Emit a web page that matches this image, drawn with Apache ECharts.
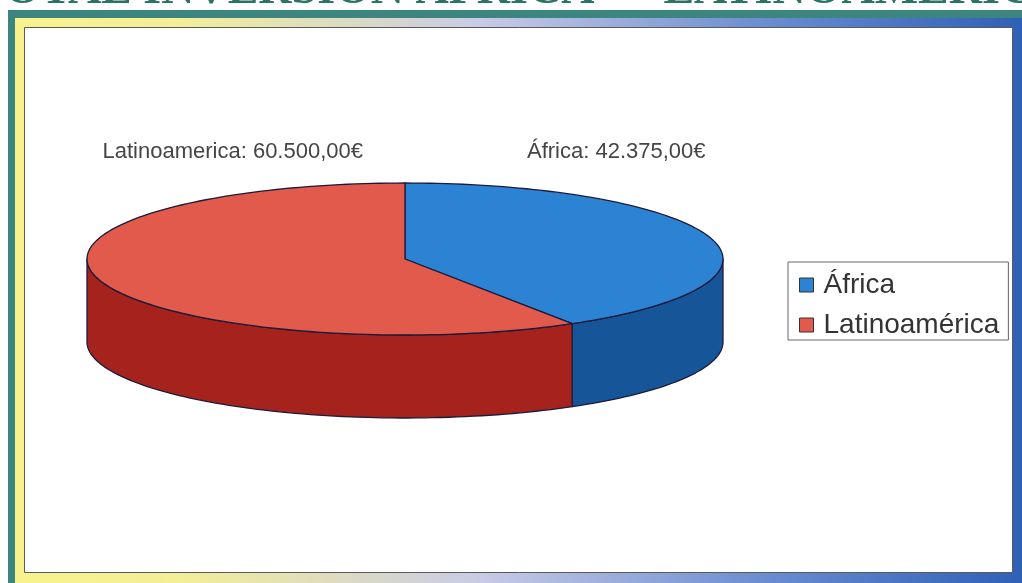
<!DOCTYPE html>
<html>
<head>
<meta charset="utf-8">
<title>Total inversión África – Latinoamérica</title>
<script src="https://cdn.jsdelivr.net/npm/echarts@6/dist/echarts.min.js"></script>
<style>
  html, body { margin: 0; padding: 0; background: #fff; }
  #chart { width: 1022px; height: 583px; }
</style>
</head>
<body>
<div id="chart"></div>
<script>
// datos del gráfico
const categories = ['África', 'Latinoamérica'];
const labelNames = ['África', 'Latinoamerica'];
const values = [42375, 60500];
const titleText = 'TOTAL INVERSIÓN ÁFRICA — LATINOAMÉRICA';

// estilos
const topColors = ['#2d83d3', '#e15a4b'];
const sideColors = ['#175599', '#a6231d'];
const EDGE = '#1b1b3c';

// geometría de la tarta 3D (en píxeles)
const PIE = { cx: 405, cy: 259, rx: 318, ry: 76, depth: 83 };
const LABELS = [
  { x: 527, y: 152, align: 'left' },
  { x: 363, y: 152, align: 'right' },
];

const total = values.reduce((a, b) => a + b, 0);

// 60500 -> "60.500,00€"
function euro(v) {
  const [i, d] = v.toFixed(2).split('.');
  return i.replace(/\B(?=(\d{3})+(?!\d))/g, '.') + ',' + d + '€';
}

function pt(t, dy) {
  return [PIE.cx + PIE.rx * Math.sin(t), PIE.cy - PIE.ry * Math.cos(t) + (dy || 0)];
}

function arc(from, to, dy) {
  const n = Math.max(2, Math.ceil((to - from) / (Math.PI / 120)));
  const out = [];
  for (let i = 0; i <= n; i++) out.push(pt(from + ((to - from) * i) / n, dy));
  return out;
}

// cada porción: pared frontal + cara superior + etiqueta
function sliceRenderer(idx) {
  return function (params, api) {
    const v = api.value(0);
    const before = values.slice(0, idx).reduce((a, b) => a + b, 0);
    const a0 = (before / total) * Math.PI * 2;
    const a1 = ((before + v) / total) * Math.PI * 2;
    const children = [];

    const w0 = Math.max(a0, Math.PI / 2);
    const w1 = Math.min(a1, Math.PI * 1.5);
    if (w1 > w0) {
      const up = arc(w0, w1, 0);
      const down = arc(w0, w1, PIE.depth).reverse();
      children.push({
        type: 'polygon',
        shape: { points: up.concat(down) },
        style: { fill: sideColors[idx], stroke: EDGE, lineWidth: 1.3, lineJoin: 'round' },
      });
    }

    children.push({
      type: 'polygon',
      shape: { points: [[PIE.cx, PIE.cy]].concat(arc(a0, a1, 0)) },
      style: { fill: topColors[idx], stroke: EDGE, lineWidth: 1.3, lineJoin: 'round' },
    });

    children.push({
      type: 'text',
      style: {
        text: labelNames[idx] + ': ' + euro(v),
        x: LABELS[idx].x,
        y: LABELS[idx].y,
        align: LABELS[idx].align,
        verticalAlign: 'middle',
        font: '22px "Liberation Sans", Arial, sans-serif',
        fill: '#454545',
      },
    });

    return { type: 'group', children };
  };
}

const chart = echarts.init(document.getElementById('chart'), null, { renderer: 'canvas' });

chart.setOption({
  animation: false,
  graphic: [
    { type: 'rect', shape: { x: 8, y: 10, width: 1040, height: 600 }, style: { fill: '#3d8680' } },
    {
      type: 'rect',
      shape: { x: 15, y: 18, width: 1030, height: 590 },
      style: {
        fill: {
          type: 'linear', x: 0, y: 0, x2: 1, y2: 0,
          colorStops: [
            { offset: 0, color: '#f8f28c' },
            { offset: 0.16, color: '#f3ee98' },
            { offset: 0.45, color: '#c9cbe6' },
            { offset: 0.72, color: '#6c8ed2' },
            { offset: 1, color: '#2a5cb3' },
          ],
        },
      },
    },
    {
      type: 'rect',
      shape: { x: 24.5, y: 27.5, width: 988, height: 545 },
      style: { fill: '#fff', stroke: '#5a5a5a', lineWidth: 1 },
    },
    {
      type: 'text',
      x: -25,
      y: 14,
      style: {
        text: titleText,
        font: 'bold 46px "Liberation Serif", "Times New Roman", serif',
        fill: '#2c7365',
        align: 'left',
        verticalAlign: 'bottom',
      },
    },
  ],
  legend: {
    orient: 'vertical',
    left: 788,
    top: 262,
    data: categories,
    selectedMode: false,
    icon: 'rect',
    itemWidth: 14,
    itemHeight: 14,
    itemGap: 12,
    padding: [9, 9, 1, 11],
    borderColor: '#666',
    borderWidth: 1,
    backgroundColor: '#fff',
    itemStyle: { borderColor: '#333', borderWidth: 1 },
    textStyle: {
      fontSize: 28,
      fontFamily: 'Liberation Sans',
      color: '#333',
      lineHeight: 28,
      padding: [0, 0, 0, 5],
    },
  },
  series: categories.map((name, i) => ({
    name,
    type: 'custom',
    coordinateSystem: 'none',
    itemStyle: { color: topColors[i] },
    renderItem: sliceRenderer(i),
    data: [[values[i]]],
    silent: true,
  })),
});
</script>
</body>
</html>
